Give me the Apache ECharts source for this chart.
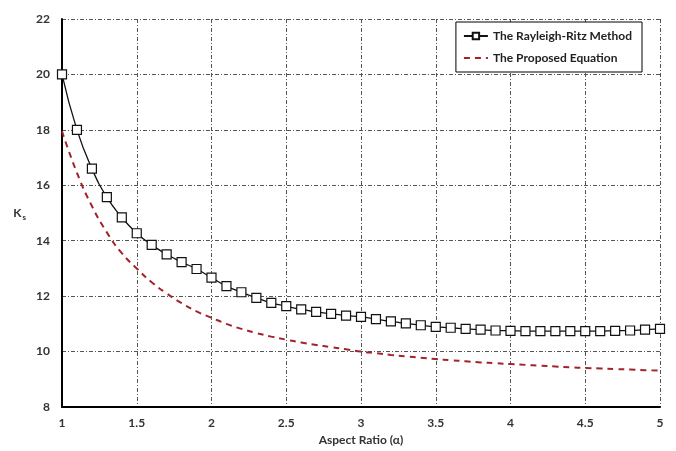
<!DOCTYPE html>
<html>
<head>
<meta charset="utf-8">
<script src="https://cdn.jsdelivr.net/npm/echarts@6/dist/echarts.min.js"></script>
<style>
html, body { margin: 0; padding: 0; background: #fff; }
#chart { width: 676px; height: 451px; }
</style>
</head>
<body>
<div id="chart"></div>
<script>
// aspect ratio points (alpha)
var alphas = [1.0, 1.1, 1.2, 1.3, 1.4, 1.5, 1.6, 1.7, 1.8, 1.9,
    2.0, 2.1, 2.2, 2.3, 2.4, 2.5, 2.6, 2.7, 2.8, 2.9,
    3.0, 3.1, 3.2, 3.3, 3.4, 3.5, 3.6, 3.7, 3.8, 3.9,
    4.0, 4.1, 4.2, 4.3, 4.4, 4.5, 4.6, 4.7, 4.8, 4.9, 5.0];
// Rayleigh-Ritz method
var ritzKs = [20.0, 18.0, 16.6, 15.57, 14.84, 14.27, 13.85, 13.51, 13.23, 12.98,
    12.67, 12.36, 12.14, 11.94, 11.76, 11.64, 11.52, 11.43, 11.36, 11.30,
    11.25, 11.17, 11.09, 11.02, 10.95, 10.89, 10.86, 10.82, 10.79, 10.76,
    10.75, 10.74, 10.74, 10.74, 10.74, 10.74, 10.74, 10.75, 10.76, 10.79, 10.82];
// proposed equation
var proposedKs = [17.95, 16.45, 15.25, 14.3, 13.55, 13.0, 12.5, 12.1, 11.75, 11.45,
    11.22, 11.0, 10.82, 10.67, 10.54, 10.43, 10.33, 10.24, 10.16, 10.08,
    10.0, 9.94, 9.88, 9.83, 9.78, 9.73, 9.69, 9.65, 9.61, 9.58,
    9.55, 9.52, 9.49, 9.46, 9.43, 9.41, 9.39, 9.37, 9.35, 9.33, 9.31];

function pairs(xs, ys) {
    var out = [];
    for (var i = 0; i < xs.length; i++) {
        out.push([xs[i], ys[i]]);
    }
    return out;
}

var labelFont = {
    color: '#333',
    fontWeight: 'bold',
    fontSize: 12,
    fontFamily: 'Lato'
};
var gridLine = {
    show: true,
    lineStyle: { color: '#555', width: 1, type: [4, 2, 1, 2] }
};

var myChart = echarts.init(document.getElementById('chart'));
myChart.setOption({
    animation: false,
    backgroundColor: '#fff',
    grid: { left: 62, right: 16, top: 19, bottom: 44 },
    legend: {
        orient: 'vertical',
        right: 34,
        top: 22,
        padding: [8, 10, 8, 7],
        itemGap: 10,
        itemWidth: 24,
        itemHeight: 8,
        backgroundColor: '#fff',
        borderColor: '#000',
        borderWidth: 1,
        textStyle: { color: '#222', fontWeight: 'bold', fontSize: 12, fontFamily: 'Lato' },
        data: [
            { name: 'The Rayleigh-Ritz Method' },
            { name: 'The Proposed Equation', itemStyle: { opacity: 0 } }
        ]
    },
    xAxis: {
        type: 'value',
        min: 1,
        max: 5,
        interval: 0.5,
        name: 'Aspect Ratio (α)',
        nameLocation: 'middle',
        nameGap: 26,
        nameTextStyle: labelFont,
        axisLine: { show: true, lineStyle: { color: '#000', width: 2 } },
        axisTick: { show: false },
        axisLabel: Object.assign({ margin: 10 }, labelFont),
        splitLine: gridLine
    },
    yAxis: {
        type: 'value',
        min: 8,
        max: 22,
        interval: 2,
        name: '{k|K}{s|s}',
        nameLocation: 'middle',
        nameRotate: 0,
        nameGap: 36,
        nameTextStyle: {
            rich: {
                k: { color: '#333', fontWeight: 'bold', fontSize: 12, fontFamily: 'Lato' },
                s: { color: '#333', fontWeight: 'bold', fontSize: 8, fontFamily: 'Lato', padding: [8, 0, 0, 1] }
            }
        },
        axisLine: { show: true, lineStyle: { color: '#000', width: 2 } },
        axisTick: { show: false },
        axisLabel: Object.assign({ margin: 12 }, labelFont),
        splitLine: gridLine
    },
    series: [{
        name: 'The Rayleigh-Ritz Method',
        type: 'line',
        smooth: true,
        data: pairs(alphas, ritzKs),
        symbol: 'rect',
        symbolSize: 9,
        itemStyle: { color: '#fff', borderColor: '#111', borderWidth: 1.2 },
        lineStyle: { color: '#111', width: 1.3 },
        z: 3
    }, {
        name: 'The Proposed Equation',
        type: 'line',
        smooth: true,
        data: pairs(alphas, proposedKs),
        symbol: 'none',
        itemStyle: { color: '#a3232b' },
        lineStyle: { color: '#a3232b', width: 2, type: [6, 5] },
        z: 2
    }]
});
</script>
</body>
</html>
